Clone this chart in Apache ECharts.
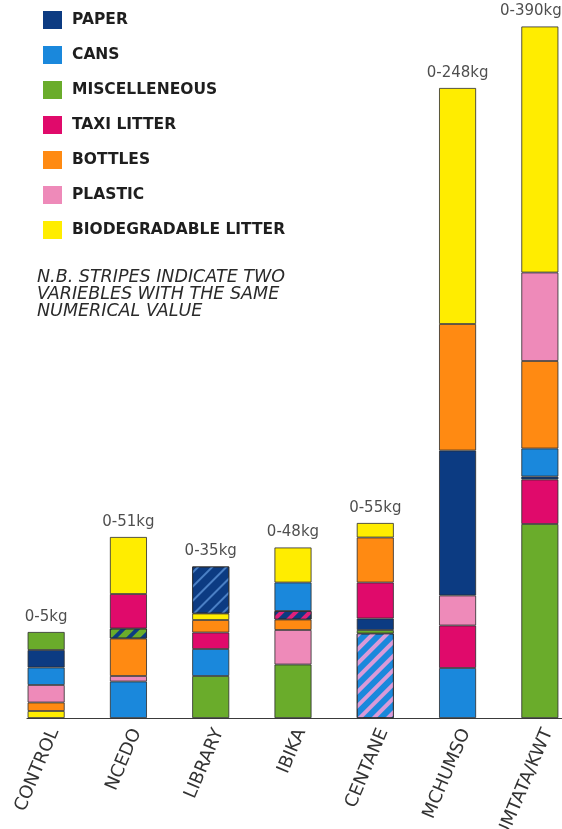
<!DOCTYPE html>
<html>
<head>
<meta charset="utf-8">
<script src="https://cdn.jsdelivr.net/npm/echarts@6/dist/echarts.min.js"></script>
<style>
  html, body { margin: 0; padding: 0; background: #ffffff; }
  #chart { width: 562px; height: 829px; }
</style>
</head>
<body>
<div id="chart"></div>
<script>
// Survey sites and the weight range collected at each
const sites = ['CONTROL', 'NCEDO', 'LIBRARY', 'IBIKA', 'CENTANE', 'MCHUMSO', 'UMTATA/KWT'];
const ranges = ['0-5kg', '0-51kg', '0-35kg', '0-48kg', '0-55kg', '0-248kg', '0-390kg'];

// Litter types (legend order)
const wasteKeys = ['PAPER', 'CANS', 'MISC', 'TAXI', 'BOTTLES', 'PLASTIC', 'BIO'];
const wasteNames = ['PAPER', 'CANS', 'MISCELLENEOUS', 'TAXI LITTER', 'BOTTLES', 'PLASTIC', 'BIODEGRADABLE LITTER'];

// Stacked segments per site, bottom to top.
// "A+B" marks two types sharing the same amount (drawn striped).
const control = [['BIO', 7], ['BOTTLES', 8.5], ['PLASTIC', 17.5], ['CANS', 17.5], ['PAPER', 17.5], ['MISC', 18]];
const ncedo   = [['CANS', 36.5], ['PLASTIC', 5.5], ['BOTTLES', 37.5], ['MISC+PAPER', 10], ['TAXI', 34.5], ['BIO', 57]];
const library = [['MISC', 42], ['CANS', 27], ['TAXI', 16.5], ['BOTTLES', 12.5], ['BIO', 6.5], ['PAPER+CANS', 47]];
const ibika   = [['MISC', 53.5], ['PLASTIC', 34.5], ['BOTTLES', 10.5], ['PAPER+TAXI', 8.5], ['CANS', 28.5], ['BIO', 35]];
const centane = [['CANS+PLASTIC', 84.5], ['MISC', 3.5], ['PAPER', 11.5], ['TAXI', 36], ['BOTTLES', 45], ['BIO', 14.5]];
const mchumso = [['CANS', 50], ['TAXI', 42.5], ['PLASTIC', 30], ['PAPER', 145], ['BOTTLES', 126.5], ['BIO', 236]];
const umtata  = [['MISC', 194], ['TAXI', 44.5], ['PAPER', 3], ['CANS', 28], ['BOTTLES', 87.5], ['PLASTIC', 88.5], ['BIO', 246]];

const siteSegments = [control, ncedo, library, ibika, centane, mchumso, umtata];

// Styling
const colors = {
  PAPER: '#0c3b82',
  CANS: '#1a88dc',
  MISC: '#6aac2b',
  TAXI: '#e00a6b',
  BOTTLES: '#ff8a12',
  PLASTIC: '#ee8ab9',
  BIO: '#ffed00'
};
const stripeColors = { PAPER: '#0c3b82', CANS: '#4a7fc4', TAXI: '#e0207a', PLASTIC: '#d99ad8' };
const stripeWidths = { 'PAPER+CANS': 1.2 };
// the last range label sits a little left of its bar
const rangeLabelShift = { 6: [-9, 0] };

function segmentStyle(key) {
  const parts = key.split('+');
  const style = { color: colors[parts[0]], borderColor: '#2b2b2b', borderWidth: 0.8 };
  if (parts.length > 1) {
    const w = stripeWidths[key] || 3.5;
    style.decal = {
      symbol: 'rect',
      symbolSize: 1,
      dashArrayX: [1, 0],
      dashArrayY: [w, 9 - w],
      rotation: -Math.PI / 4,
      color: stripeColors[parts[1]] || colors[parts[1]]
    };
  }
  return style;
}

const depth = Math.max(...siteSegments.map(s => s.length));
const layerSeries = [];
for (let i = 0; i < depth; i++) {
  layerSeries.push({
    type: 'bar',
    name: 'layer' + i,
    stack: 'all',
    barWidth: 37,
    silent: true,
    data: siteSegments.map(s => s[i] ? { value: s[i][1], itemStyle: segmentStyle(s[i][0]) } : '-')
  });
}

// Empty series that only feed the legend
const legendSeries = wasteKeys.map((k, i) => ({
  type: 'bar',
  name: wasteNames[i],
  stack: 'all',
  data: [],
  itemStyle: { color: colors[k] }
}));

const totals = siteSegments.map(s => s.reduce((a, seg) => a + seg[1], 0));

const gridBox = { top: 18, bottom: 111, containLabel: false, outerBoundsMode: 'none' };

const option = {
  animation: false,
  backgroundColor: '#ffffff',
  title: {
    text: 'N.B. STRIPES INDICATE TWO\nVARIEBLES WITH THE SAME\nNUMERICAL VALUE',
    left: 37,
    top: 269,
    padding: 0,
    textStyle: {
      fontFamily: 'DejaVu Sans',
      fontStyle: 'italic',
      fontWeight: 'normal',
      fontSize: 17.5,
      lineHeight: 17,
      color: '#2a2a2a'
    }
  },
  legend: {
    orient: 'vertical',
    left: 38,
    top: 6,
    itemWidth: 19,
    itemHeight: 18,
    itemGap: 17,
    icon: 'rect',
    selectedMode: false,
    data: wasteNames,
    textStyle: {
      fontFamily: 'DejaVu Sans',
      fontWeight: 'bold',
      fontSize: 15.5,
      color: '#1e1e1e',
      padding: [0, 0, 0, 5]
    }
  },
  grid: [
    // bars
    Object.assign({ left: 5, width: 576 }, gridBox),
    // baseline
    Object.assign({ left: 27, right: 0 }, gridBox)
  ],
  xAxis: [
    {
      type: 'category',
      gridIndex: 0,
      data: sites,
      axisLine: { show: false },
      axisTick: { show: false },
      axisLabel: {
        interval: 0,
        rotate: 67,
        margin: 8,
        verticalAlign: 'top',
        fontFamily: 'DejaVu Sans',
        fontSize: 18,
        color: '#333333'
      }
    },
    {
      type: 'value',
      gridIndex: 1,
      min: 0,
      max: 1,
      axisLine: { show: true, lineStyle: { color: '#3a3a3a', width: 1.2 } },
      axisTick: { show: false },
      axisLabel: { show: false },
      splitLine: { show: false }
    }
  ],
  yAxis: [
    { type: 'value', gridIndex: 0, min: 0, max: 700, show: false },
    { type: 'value', gridIndex: 1, min: 0, max: 700, show: false }
  ],
  series: [
    ...layerSeries,
    ...legendSeries,
    {
      type: 'scatter',
      name: 'ranges',
      silent: true,
      symbolSize: 1,
      itemStyle: { color: 'rgba(0,0,0,0)' },
      data: totals.map((t, j) => rangeLabelShift[j]
        ? { value: [j, t], label: { offset: rangeLabelShift[j] } }
        : [j, t]),
      label: {
        show: true,
        position: 'top',
        distance: 7,
        formatter: p => ranges[p.dataIndex],
        fontFamily: 'DejaVu Sans',
        fontSize: 15,
        color: '#222222'
      }
    }
  ]
};

const chart = echarts.init(document.getElementById('chart'), null, { renderer: 'canvas' });
chart.setOption(option);
</script>
</body>
</html>
